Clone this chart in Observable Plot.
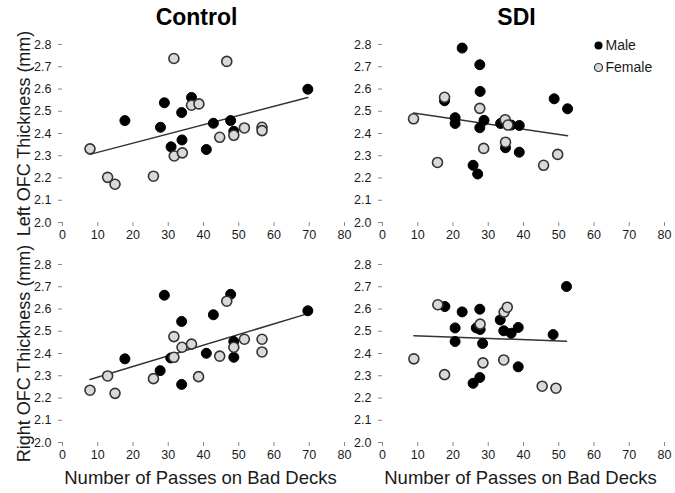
<!DOCTYPE html>
<html>
<head>
<meta charset="utf-8">
<script src="https://cdn.jsdelivr.net/npm/d3@7"></script>
<script src="https://cdn.jsdelivr.net/npm/@observablehq/plot@0.6"></script>
<style>
  html, body { margin: 0; padding: 0; background: #fff; }
  #chart { position: relative; width: 675px; height: 493px; overflow: hidden; font-family: "Liberation Sans", Arial, sans-serif; }
  #chart svg { position: absolute; overflow: visible; }
</style>
</head>
<body>
<div id="chart"></div>
<script>
// ---- data ----
const groups = ["Control", "SDI"];
const yTitles = ["Left OFC Thickness (mm)", "Right OFC Thickness (mm)"];
const xTitle = "Number of Passes on Bad Decks";
const legendLabels = ["Male", "Female"];
const xTicks = [0, 10, 20, 30, 40, 50, 60, 70, 80];
const yTicks = [2.0, 2.1, 2.2, 2.3, 2.4, 2.5, 2.6, 2.7, 2.8];

const controlLeftMale = [[17.7,2.458],[27.8,2.428],[28.9,2.538],[30.8,2.340],[33.8,2.494],[33.9,2.371],[36.6,2.562],[40.8,2.328],[42.8,2.446],[47.7,2.458],[48.6,2.410],[69.6,2.599]];
const controlLeftFemale = [[7.8,2.331],[12.8,2.203],[14.9,2.172],[25.8,2.208],[31.6,2.737],[31.7,2.299],[34.0,2.313],[36.6,2.527],[38.7,2.533],[44.6,2.383],[46.6,2.724],[48.6,2.392],[51.6,2.425],[56.6,2.428],[56.6,2.413]];

const sdiLeftMale = [[22.6,2.784],[27.6,2.709],[27.7,2.589],[17.6,2.547],[20.6,2.471],[20.6,2.445],[28.8,2.459],[27.6,2.426],[33.5,2.445],[36.5,2.438],[38.8,2.436],[34.9,2.336],[38.8,2.316],[25.7,2.257],[27.0,2.218],[48.7,2.556],[52.5,2.511]];
const sdiLeftFemale = [[8.8,2.466],[15.6,2.270],[17.6,2.563],[27.6,2.513],[28.7,2.333],[34.8,2.462],[35.6,2.438],[34.9,2.361],[45.7,2.257],[49.7,2.306]];

const controlRightMale = [[17.7,2.376],[27.7,2.323],[28.9,2.662],[30.7,2.380],[33.8,2.544],[33.8,2.261],[40.8,2.401],[42.8,2.574],[47.7,2.666],[48.6,2.454],[48.6,2.383],[69.6,2.592]];
const controlRightFemale = [[7.8,2.235],[12.8,2.299],[14.9,2.221],[25.8,2.287],[31.6,2.476],[31.6,2.383],[33.9,2.428],[36.6,2.442],[38.6,2.296],[44.6,2.388],[46.6,2.635],[48.6,2.428],[51.6,2.464],[56.6,2.464],[56.6,2.407]];

const sdiRightMale = [[17.7,2.611],[22.6,2.587],[20.6,2.515],[20.6,2.454],[27.6,2.599],[26.6,2.515],[27.7,2.508],[28.4,2.445],[33.4,2.551],[34.4,2.502],[36.5,2.491],[38.5,2.517],[38.5,2.340],[25.7,2.266],[27.6,2.292],[48.4,2.485],[52.2,2.701]];
const sdiRightFemale = [[8.9,2.376],[15.7,2.619],[17.6,2.305],[27.7,2.532],[28.5,2.358],[34.4,2.371],[34.5,2.586],[35.4,2.608],[45.3,2.253],[49.2,2.244]];

// ---- panels ----
const FONT = "Liberation Sans, Arial, sans-serif";
const panels = [
  {male: controlLeftMale, female: controlLeftFemale, row: 0, col: 0},
  {male: sdiLeftMale, female: sdiLeftFemale, row: 0, col: 1},
  {male: controlRightMale, female: controlRightFemale, row: 1, col: 0},
  {male: sdiRightMale, female: sdiRightFemale, row: 1, col: 1}
];

const chart = document.getElementById("chart");

for (const p of panels) {
  const left = p.col === 0 ? 0 : 320;
  const top = p.row === 0 ? 0 : 250;
  const width = p.col === 0 ? 360 : 355;
  const height = p.row === 0 ? 250 : 243;
  const marginLeft = 62;
  const marginRight = p.col === 0 ? 16 : 11;
  const marginTop = p.row === 0 ? 44 : 14;
  const marginBottom = p.row === 0 ? 28 : 51;
  const all = p.male.concat(p.female);

  const marks = [
    Plot.axisX({ticks: xTicks, tickSize: 4, tickPadding: 4, line: true, label: null,
      stroke: "#8a8a8a", fill: "#1a1a1a", fontSize: 12.5}),
    Plot.axisY({ticks: yTicks, tickFormat: d3.format(".1f"), tickSize: 4, tickPadding: 7, line: true, label: null,
      stroke: "#8a8a8a", fill: "#1a1a1a", fontSize: 12.5}),
    Plot.linearRegressionY(all, {x: d => d[0], y: d => d[1], ci: 0, stroke: "#333", strokeWidth: 1.5}),
    Plot.dot(p.male, {x: d => d[0], y: d => d[1], r: 5, fill: "#000", stroke: "#000", strokeWidth: 1}),
    Plot.dot(p.female, {x: d => d[0], y: d => d[1], r: 5, fill: "#d9d9d9", stroke: "#333", strokeWidth: 1.6})
  ];
  if (p.row === 0) {
    marks.push(Plot.text([groups[p.col]], {frameAnchor: "top", lineAnchor: "middle", textAnchor: "middle", dy: -27, dx: -7,
      fontSize: 23, fontWeight: "bold", fill: "#000"}));
  }
  if (p.row === 1) {
    marks.push(Plot.text([xTitle], {frameAnchor: "bottom", lineAnchor: "middle", textAnchor: "middle", dy: 36, dx: -3,
      fontSize: 18.5, fill: "#1a1a1a"}));
  }
  if (p.col === 0) {
    marks.push(Plot.text([yTitles[p.row]], {frameAnchor: "left", rotate: -90, dx: -38, textAnchor: "middle", lineAnchor: "middle",
      fontSize: 18, fill: "#1a1a1a"}));
  }
  if (p.row === 0 && p.col === 1) {
    marks.push(Plot.dot([legendLabels[0]], {frameAnchor: "top-right", dx: -66, dy: 1, r: 4, fill: "#000"}));
    marks.push(Plot.text([legendLabels[0]], {frameAnchor: "top-right", dx: -59, dy: 1, lineAnchor: "middle", textAnchor: "start", fontSize: 14, fill: "#1a1a1a"}));
    marks.push(Plot.dot([legendLabels[1]], {frameAnchor: "top-right", dx: -66, dy: 23, r: 4, fill: "#d9d9d9", stroke: "#333", strokeWidth: 1.2}));
    marks.push(Plot.text([legendLabels[1]], {frameAnchor: "top-right", dx: -59, dy: 23, lineAnchor: "middle", textAnchor: "start", fontSize: 14, fill: "#1a1a1a"}));
  }

  const svg = Plot.plot({
    width, height, marginLeft, marginRight, marginTop, marginBottom,
    style: {fontFamily: FONT, background: "transparent", overflow: "visible"},
    x: {domain: [0, 80]},
    y: {domain: [2.0, 2.8]},
    marks
  });
  svg.style.left = left + "px";
  svg.style.top = top + "px";
  chart.appendChild(svg);
}
</script>
</body>
</html>
